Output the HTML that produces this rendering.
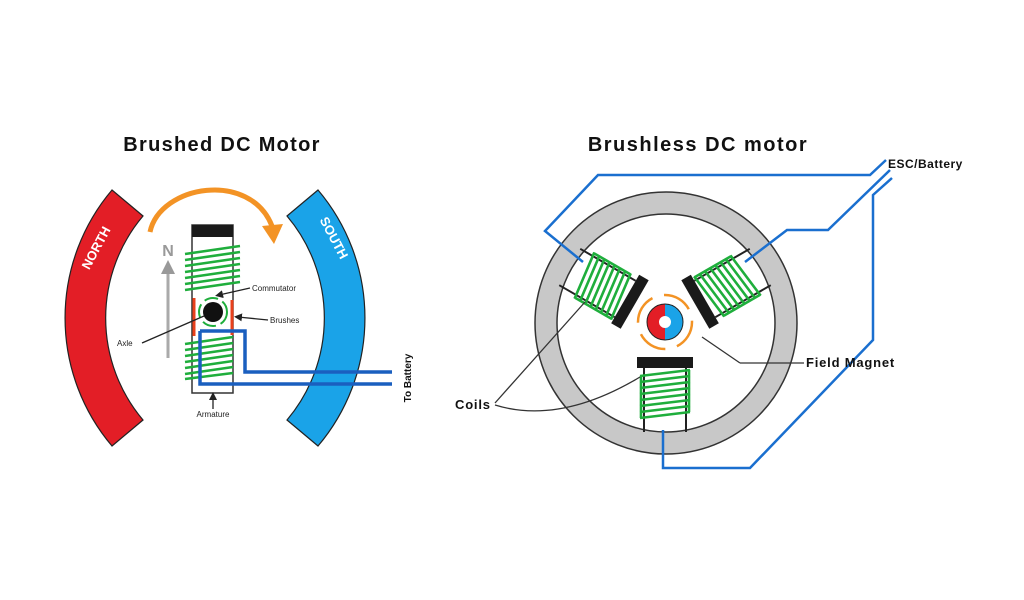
<!DOCTYPE html>
<html><head><meta charset="utf-8"><style>
html,body{margin:0;padding:0;background:#fff;}
svg{display:block}
text{font-family:"Liberation Sans",Arial,sans-serif;}
</style></head><body>
<svg width="1024" height="600" viewBox="0 0 1024 600" xmlns="http://www.w3.org/2000/svg">
<defs>
<marker id="ah" markerWidth="8" markerHeight="8" refX="4" refY="4" orient="auto" markerUnits="userSpaceOnUse"><path d="M0,0 L8,4 L0,8z" fill="#222"/></marker>
<g id="coilB">
  <line x1="644" y1="368" x2="644" y2="432" stroke="#222" stroke-width="2"/>
  <line x1="686" y1="368" x2="686" y2="432" stroke="#222" stroke-width="2"/>
  <rect x="637" y="357" width="56" height="11" fill="#1a1a1a"/>
  <g stroke="#1fae3c" stroke-width="2.6" fill="none">
    <path d="M640,376 L690,370 M640,382 L690,376 M640,388 L690,382 M640,394 L690,388 M640,400 L690,394 M640,406 L690,400 M640,412 L690,406 M640,418 L690,412"/>
    <path d="M641,376 L641,418 M689,370 L689,412"/>
  </g>
</g>
</defs>
<rect width="1024" height="600" fill="#fff"/>

<!-- Titles -->
<text x="222" y="151" font-size="20" font-weight="bold" letter-spacing="1.3" text-anchor="middle" fill="#111">Brushed DC Motor</text>
<text x="698" y="151" font-size="20" font-weight="bold" letter-spacing="1.5" text-anchor="middle" fill="#111">Brushless DC motor</text>

<!-- North arc -->
<path d="M112,190 A198,198 0 0 0 112,446 L143,420 A158,158 0 0 1 143,216 Z" fill="#e31e26" stroke="#222" stroke-width="1.2"/>
<text transform="translate(100,250) rotate(-62)" font-size="13" font-weight="bold" fill="#fff" text-anchor="middle">NORTH</text>
<!-- South arc -->
<path d="M318,190 A198,198 0 0 1 318,446 L287,420 A158,158 0 0 0 287,216 Z" fill="#1aa3e8" stroke="#222" stroke-width="1.2"/>
<text transform="translate(330,240) rotate(62)" font-size="13" font-weight="bold" fill="#fff" text-anchor="middle">SOUTH</text>

<!-- Orange rotation arrow -->
<path d="M150,232 C160,185 250,170 272,226" fill="none" stroke="#f39325" stroke-width="5"/>
<path d="M262,226 L283,224 L274,244 Z" fill="#f39325"/>

<!-- N arrow -->
<line x1="168" y1="358" x2="168" y2="270" stroke="#aaa" stroke-width="3"/>
<path d="M161,274 L168,260 L175,274 Z" fill="#999"/>
<text x="168" y="256" font-size="16" font-weight="bold" fill="#999" text-anchor="middle">N</text>

<!-- Armature frame -->
<rect x="192" y="225" width="41" height="168" fill="none" stroke="#333" stroke-width="1.5"/>
<rect x="192" y="225" width="41" height="12" fill="#1a1a1a"/>
<g stroke="#1fae3c" stroke-width="2.6" fill="none">
  <path d="M185,254 L240,246 M185,260 L240,252 M185,266 L240,258 M185,272 L240,264 M185,278 L240,270 M185,284 L240,276 M185,290 L240,282"/>
  <path d="M185,344 L233,337 M185,350 L233,343 M185,356 L233,349 M185,362 L233,355 M185,368 L233,361 M185,374 L233,367 M185,379 L233,373"/>
</g>
<circle cx="213" cy="312" r="14" fill="none" stroke="#1fae3c" stroke-width="2" stroke-dasharray="14 5"/>
<circle cx="213" cy="312" r="10" fill="#111"/>
<line x1="194" y1="298" x2="194" y2="336" stroke="#e8401c" stroke-width="3"/>
<line x1="232" y1="300" x2="232" y2="335" stroke="#e8401c" stroke-width="3"/>
<!-- Blue wires -->
<path d="M200,331 L200,384 L392,384" fill="none" stroke="#1a5fbf" stroke-width="3.5"/>
<path d="M200,331 L245,331 L245,372 L392,372" fill="none" stroke="#1a5fbf" stroke-width="3.5"/>
<!-- labels -->
<line x1="250" y1="288" x2="219" y2="295" stroke="#222" stroke-width="1.3" marker-end="url(#ah)"/>
<text x="252" y="291" font-size="8" fill="#222">Commutator</text>
<line x1="268" y1="320" x2="238" y2="317" stroke="#222" stroke-width="1.3" marker-end="url(#ah)"/>
<text x="270" y="323" font-size="8" fill="#222">Brushes</text>
<line x1="142" y1="343" x2="204" y2="316" stroke="#222" stroke-width="1.3"/>
<text x="117" y="346" font-size="8" fill="#222">Axle</text>
<line x1="213" y1="409" x2="213" y2="396" stroke="#222" stroke-width="1.3" marker-end="url(#ah)"/>
<text x="213" y="417" font-size="8" fill="#222" text-anchor="middle">Armature</text>
<text transform="translate(411,378) rotate(-90)" font-size="10" font-weight="bold" fill="#111" text-anchor="middle">To Battery</text>

<!-- Brushless ring -->
<circle cx="666" cy="323" r="120" fill="none" stroke="#c8c8c8" stroke-width="22"/>
<circle cx="666" cy="323" r="131" fill="none" stroke="#333" stroke-width="1.5"/>
<circle cx="666" cy="323" r="109" fill="none" stroke="#333" stroke-width="1.5"/>

<use href="#coilB"/>
<use href="#coilB" transform="rotate(120 665 322)"/>
<use href="#coilB" transform="rotate(-120 665 322)"/>

<!-- rotor -->
<circle cx="665" cy="322" r="27" fill="none" stroke="#f39325" stroke-width="2.5" stroke-dasharray="30 12"/>
<path d="M665,304 A18,18 0 0 0 665,340 L665,328 A6,6 0 0 1 665,316 Z" fill="#e31e26"/>
<path d="M665,304 A18,18 0 0 1 665,340 L665,328 A6,6 0 0 0 665,316 Z" fill="#1aa3e8"/>
<circle cx="665" cy="322" r="18" fill="none" stroke="#222" stroke-width="1"/>

<!-- Blue wires brushless -->
<g fill="none" stroke="#1a6fcf" stroke-width="2.5">
  <path d="M583,262 L545,231 L598,175 L870,175 L886,160"/>
  <path d="M745,262 L787,230 L828,230 L890,170"/>
  <path d="M663,430 L663,468 L750,468 L873,340 L873,195 L892,178"/>
</g>
<line x1="702" y1="337" x2="740" y2="363" stroke="#333" stroke-width="1.3"/>
<line x1="740" y1="363" x2="804" y2="363" stroke="#333" stroke-width="1.3"/>
<text x="806" y="367" font-size="13" font-weight="bold" letter-spacing="0.8" fill="#111">Field Magnet</text>
<text x="888" y="168" font-size="12" font-weight="bold" letter-spacing="0.5" fill="#111">ESC/Battery</text>
<text x="455" y="409" font-size="13" font-weight="bold" letter-spacing="0.8" fill="#111">Coils</text>
<path d="M495,403 L585,302" fill="none" stroke="#333" stroke-width="1.3"/>
<path d="M495,405 Q560,425 640,377" fill="none" stroke="#333" stroke-width="1.3"/>
</svg>
</body></html>
